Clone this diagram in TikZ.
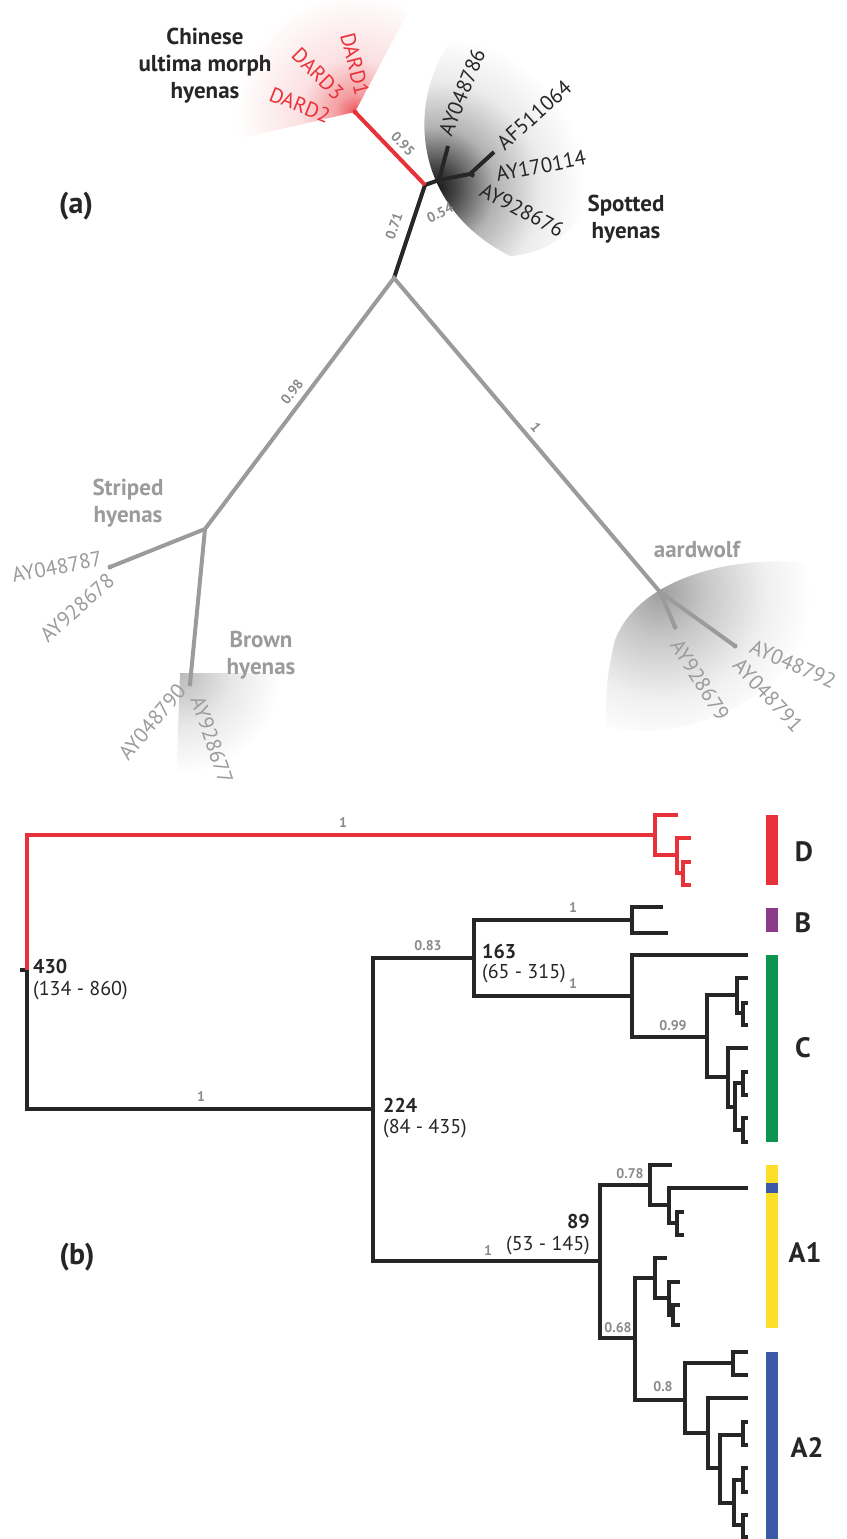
\documentclass[tikz,border=0pt]{standalone}
\usepackage{fontspec}
\setmainfont{PT Sans}
\definecolor{treeblack}{HTML}{262626}
\definecolor{treegray}{HTML}{9B9B9B}
\definecolor{suppgray}{HTML}{8A8A8A}
\definecolor{dardred}{HTML}{E8323A}
\definecolor{cladegreen}{HTML}{0B9550}
\definecolor{cladepurple}{HTML}{8B3A8C}
\definecolor{cladeyellow}{HTML}{FDDC2A}
\definecolor{cladeblue}{HTML}{3A5AA8}
\newcommand{\fs}[2]{\fontsize{#1}{#2}\selectfont}
% fading fans behind the clades of (a)
\pgfdeclareradialshading{redfan}{\pgfpointorigin}{color(0bp)=(dardred!82!white); color(3bp)=(dardred!48!white);
	color(9bp)=(dardred!15!white); color(20bp)=(white); color(50bp)=(white)}
\pgfdeclareradialshading{spotfan}{\pgfpointorigin}{color(0bp)=(black!92); color(3bp)=(black!72);
	color(8bp)=(black!30); color(14bp)=(black!8); color(20bp)=(white); color(50bp)=(white)}
\pgfdeclareradialshading{brownfan}{\pgfpointorigin}{color(0bp)=(black!27); color(12bp)=(black!9);
	color(23bp)=(white); color(50bp)=(white)}
\pgfdeclareradialshading{aardfan}{\pgfpointorigin}{color(0bp)=(black!38); color(6bp)=(black!22);
	color(14bp)=(black!6); color(20bp)=(white); color(50bp)=(white)}
\begin{document}
\begin{tikzpicture}[x=1pt, y=-1pt, line join=miter, font=\fs{21}{24},
		atree/.style={line width=4pt, treeblack},
		btree/.style={line width=4.5pt, treeblack},
		tiplab/.style={inner sep=0pt, text=treeblack, font=\fs{21}{24}},
		grouplab/.style={align=center, inner sep=0pt, font=\bfseries\fs{23}{27}},
		supp/.style={inner sep=0pt, text=suppgray, font=\bfseries\fs{14}{16}},
		agebold/.style={inner sep=0pt, anchor=base west, text=treeblack, font=\bfseries\fs{20}{23}},
		agerange/.style={inner sep=0pt, anchor=base west, text=treeblack, font=\fs{20}{23}},
		clade/.style={inner sep=0pt, text=treeblack, font=\bfseries\fs{28}{30}},
		panel/.style={inner sep=0pt, text=treeblack, font=\bfseries\fs{30}{32}}]
	\useasboundingbox (0,0) rectangle (846,1539);
	% (a) unrooted tree
	\coordinate (ra) at (394,278);
	\coordinate (dj) at (425,185);
	\coordinate (sp) at (439,180);
	\coordinate (sp2) at (470,174);
	\coordinate (dard) at (355,112);
	\coordinate (st) at (205,529);
	\coordinate (aw) at (660,592);
	\coordinate (bfan) at (180,673);
	\begin{scope}
		\clip (dard) -- +(-62:300) -- +(-130:300) -- +(-193:300) -- cycle;
		\shade[shading=redfan] (dard) circle (150);
	\end{scope}
	\begin{scope}
		\clip (485,8) .. controls (410,55) and (390,195) .. (510,256) .. controls (610,250) and (640,110) .. (485,8) -- cycle;
		\shade[shading=spotfan] (434,188) circle (190);
	\end{scope}
	\begin{scope}
		\clip (bfan) -- +(0:300) -- +(45:300) -- +(92:300) -- cycle;
		\shade[shading=brownfan] (bfan) circle (110);
	\end{scope}
	\begin{scope}
		\clip (807,563) .. controls (740,555) and (640,575) .. (615,640) .. controls (605,680) and (605,710) .. (607,727) .. controls (680,745) and (780,700) .. (805,640) .. controls (812,610) and (810,585) .. (807,563) -- cycle;
		\shade[shading=aardfan] (aw) circle (190);
	\end{scope}
	\draw[atree] (ra) -- (dj) -- (sp) -- (448,146) coordinate (t786);
	\draw[atree] (sp) -- (sp2) -- (494,152) coordinate (t064);
	\draw[atree] (sp2) -- (474,176) coordinate (t114);
	\draw[atree, dardred] (dj) -- (dard);
	\draw[atree, treegray] (aw) -- (ra) -- (st) -- (110,567) coordinate (t787);
	\draw[atree, treegray] (st) -- (190,684) coordinate (t790);
	\draw[atree, treegray] (aw) -- (735,646) coordinate (t792);
	\draw[atree, treegray] (aw) -- (675,627) coordinate (t679);
	\foreach \t in {t787,t790,t792,t679}
		\fill[treegray] (\t) circle (2.5);
	\fill[dardred] (dard) circle (2.5);
	\node[tiplab, text=dardred, rotate=-76] (dard1) at (355,64) {DARD1};
	\node[tiplab, text=dardred, rotate=-45] (dard3) at (318,74) {DARD3};
	\node[tiplab, text=dardred, rotate=-22] (dard2) at (300,105) {DARD2};
	\node[tiplab, rotate=68] (ay048786) at (462,92) {AY048786};
	\node[tiplab, rotate=42] (af511064) at (534,115) {AF511064};
	\node[tiplab, rotate=11] (ay170114) at (541,166) {AY170114};
	\node[tiplab, rotate=-28] (ay928676) at (522,210) {AY928676};
	\node[tiplab, text=treegray, rotate=11] (ay048787) at (57,567) {AY048787};
	\node[tiplab, text=treegray, rotate=42] (ay928678) at (77,608) {AY928678};
	\node[tiplab, text=treegray, rotate=50] (ay048790) at (152,722) {AY048790};
	\node[tiplab, text=treegray, rotate=-71] (ay928677) at (212,740) {AY928677};
	\node[tiplab, text=treegray, rotate=-58] (ay928679) at (700,680) {AY928679};
	\node[tiplab, text=treegray, rotate=-47] (ay048791) at (768,695) {AY048791};
	\node[tiplab, text=treegray, rotate=-24] (ay048792) at (793,664) {AY048792};
	\node[grouplab, text=treeblack] (chinese) at (205,66) {Chinese\\ultima morph\\hyenas};
	\node[grouplab, text=treeblack] (spotted) at (626,219) {Spotted\\hyenas};
	\node[grouplab, text=treegray] (striped) at (128,503) {Striped\\hyenas};
	\node[grouplab, text=treegray] (brown) at (261,655) {Brown\\hyenas};
	\node[grouplab, text=treegray] (aardwolf) at (697,550) {aardwolf};
	\node[supp, rotate=-46] (s095) at (403,144) {0.95};
	\node[supp, rotate=71] (s071) at (394,226) {0.71};
	\node[supp, rotate=26] (s054) at (440,213) {0.54};
	\node[supp, rotate=53] (s098) at (292,392) {0.98};
	\node[supp, rotate=-50] (s1a) at (536,427) {1};
	\node[panel] (pa) at (76,206) {(a)};
	% (b) dated tree
	\coordinate (r) at (27,970);
	\draw[btree] (r) -- ++(-7,0) coordinate (r0);
	\foreach \p/\c/\x/\y in {r/d0/655/835, d0/t1/678/815, d0/d1/677/855,
			d1/t2/691/838, d1/d2/683/873, d2/t3/691/862, d2/t4/691/885}
		\draw[btree, dardred] (\p) |- (\x,\y) coordinate (\c);
	\foreach \p/\c/\x/\y in {r/n224/373/1109, n224/n163/474/958, n224/n89/600/1261,
			n163/nb/632/920, n163/nc/632/996, nb/t5/663/907, nb/t6/668/933,
			nc/t7/748/955, nc/c1/707/1037, c1/c2/737/995, c1/c3/728/1077,
			c2/t8/748/978, c2/c4/743/1013, c4/t9/748/1003, c4/t10/748/1025,
			c3/t11/748/1048, c3/c5/735/1107, c5/c6/743/1083, c5/c7/743/1130,
			c6/t12/748/1072, c6/t13/748/1095, c7/t14/748/1118, c7/t15/748/1142,
			n89/a1/650/1185, n89/a2/635/1338, a1/t16/672/1165, a1/a3/669/1205,
			a3/t17/748/1188, a3/a4/677/1223, a4/t18/684/1212, a4/t19/684/1235,
			a2/a5/655/1278, a2/a6/685/1400, a5/t20/667/1258, a5/a7/669/1298,
			a7/t21/680/1282, a7/a8/673/1315, a8/t22/680/1305, a8/t23/680/1325,
			a6/a9/733/1363, a6/a10/708/1433, a9/t24/748/1352, a9/t25/748/1375,
			a10/t26/748/1398, a10/a11/720/1468, a11/a12/743/1435, a11/a13/734/1503,
			a12/t27/748/1422, a12/t28/748/1445, a13/a14/743/1480, a13/a15/743/1525,
			a14/t29/748/1468, a14/t30/748/1492, a15/t31/748/1515, a15/t32/748/1537}
		\draw[btree] (\p) |- (\x,\y) coordinate (\c);
	% clade bars
	\fill[dardred] (766,815) rectangle (778,885);
	\fill[cladepurple] (766,908) rectangle (778,932);
	\fill[cladegreen] (766,955) rectangle (778,1142);
	\fill[cladeyellow] (766,1165) rectangle (778,1328);
	\fill[cladeblue] (766,1183) rectangle (778,1193);
	\fill[cladeblue] (766,1352) rectangle (778,1539);
	\node[clade] (cd) at (804,852) {D};
	\node[clade] (cb) at (803,923) {B};
	\node[clade] (cc) at (803,1048) {C};
	\node[clade] (ca1) at (805,1253) {A1};
	\node[clade] (ca2) at (807,1447) {A2};
	\node[supp] (s1r) at (343,823) {1};
	\node[supp] (s1b) at (201,1097) {1};
	\node[supp] (s083) at (428,946) {0.83};
	\node[supp] (s1c) at (573,908) {1};
	\node[supp] (s1d) at (573,984) {1};
	\node[supp] (s099) at (673,1026) {0.99};
	\node[supp] (s078) at (630,1174) {0.78};
	\node[supp] (s1e) at (488,1250) {1};
	\node[supp] (s068) at (618,1328) {0.68};
	\node[supp] (s08) at (663,1387) {0.8};
	\node[agebold] (g430) at (33,973) {430};
	\node[agerange] (r430) at (33,995) {(134 - 860)};
	\node[agebold] (g224) at (383,1112) {224};
	\node[agerange] (r224) at (383,1133) {(84 - 435)};
	\node[agebold] (g163) at (482,958) {163};
	\node[agerange] (r163) at (482,978) {(65 - 315)};
	\node[agebold, anchor=base east] (g89) at (590,1228) {89};
	\node[agerange, anchor=base east] (r89) at (590,1250) {(53 - 145)};
	\node[panel] (pb) at (77,1257) {(b)};
\end{tikzpicture}
\end{document}
